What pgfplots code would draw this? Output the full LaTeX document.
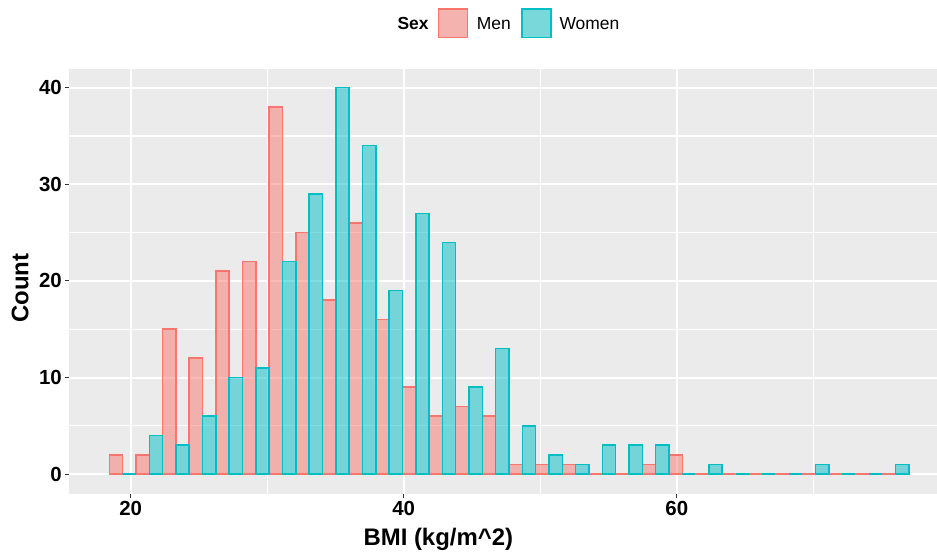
\documentclass[border=0pt]{standalone}
\usepackage{pgfplots}
\pgfplotsset{compat=1.18}
\usepackage{pgfplotstable}
\usepackage{fontspec}
\setmainfont{Liberation Sans}
\definecolor{menc}{HTML}{F8766D}
\definecolor{womc}{HTML}{00BFC4}
\definecolor{panel}{HTML}{EBEBEB}
\definecolor{tickc}{HTML}{333333}

\pgfplotstableread{
x men women
19.410 2 0
21.362 2 4
23.314 15 3
25.266 12 6
27.218 21 10
29.170 22 11
31.122 38 22
33.074 25 29
35.026 18 40
36.978 26 34
38.930 16 19
40.882 9 27
42.834 6 24
44.786 7 9
46.738 6 13
48.690 1 5
50.642 1 2
52.594 1 1
54.546 0 3
56.498 0 3
58.450 1 3
60.402 2 0
62.354 0 1
64.306 0 0
66.258 0 0
68.210 0 0
70.162 0 1
72.114 0 0
74.066 0 0
76.018 0 1
}\bmidata

\begin{document}
\begin{tikzpicture}
\path[use as bounding box] (0,0) rectangle (937bp,555bp);
\begin{axis}[
  at={(69.3bp,61.5bp)}, anchor=south west,
  scale only axis, width=867.7bp, height=424.5bp,
  xmin=15.505, xmax=79.06, ymin=-2, ymax=41.93,
  axis background/.style={fill=panel},
  axis line style={draw=none},
  xtick={20,40,60}, minor xtick={30,50,70},
  ytick={0,10,20,30,40}, minor ytick={5,15,25,35},
  grid=both,
  major grid style={white, line width=2bp},
  minor grid style={white, line width=1.1bp},
  tick align=outside, major tick length=4bp, minor tick length=0pt,
  tick style={tickc, line width=1bp},
  tick pos=left,
  ticklabel style={font=\bfseries\fontsize{20.5}{20.5}\selectfont, text=black},
  /pgf/number format/assume math mode=true,
  ybar, bar shift=0pt, bar width=0.976,
]
\addplot[draw=menc, fill=menc, fill opacity=0.5, line width=1.5bp] table[x expr=\thisrow{x}-0.488, y=men]{\bmidata};
\addplot[draw=womc, fill=womc, fill opacity=0.5, line width=1.5bp] table[x expr=\thisrow{x}+0.488, y=women]{\bmidata};
\end{axis}
% axis titles
\node[font=\bfseries\fontsize{24}{24}\selectfont, anchor=base, inner sep=0pt] at (438.3bp,10bp) {BMI (kg/m\textasciicircum{}2)};
\node[font=\bfseries\fontsize{24}{24}\selectfont, anchor=base, rotate=90, inner sep=0pt] at (28.3bp,267bp) {Count};
% legend
\node[font=\bfseries\fontsize{17.5}{17.5}\selectfont, anchor=west, inner sep=0pt] at (397.3bp,531.7bp) {Sex};
\fill[fill=gray!10] (437.7bp,516.7bp) rectangle (468.3bp,546.7bp);
\draw[draw=menc, fill=menc, fill opacity=0.5, line width=1.5bp] (438.5bp,517.5bp) rectangle (467.5bp,545.9bp);
\node[font=\fontsize{17.5}{17.5}\selectfont, anchor=west, inner sep=0pt] at (476.7bp,531.7bp) {Men};
\fill[fill=gray!10] (521bp,516.7bp) rectangle (551.6bp,546.7bp);
\draw[draw=womc, fill=womc, fill opacity=0.5, line width=1.5bp] (521.8bp,517.5bp) rectangle (550.8bp,545.9bp);
\node[font=\fontsize{17.5}{17.5}\selectfont, anchor=west, inner sep=0pt] at (559.3bp,531.7bp) {Women};
\end{tikzpicture}
\end{document}
